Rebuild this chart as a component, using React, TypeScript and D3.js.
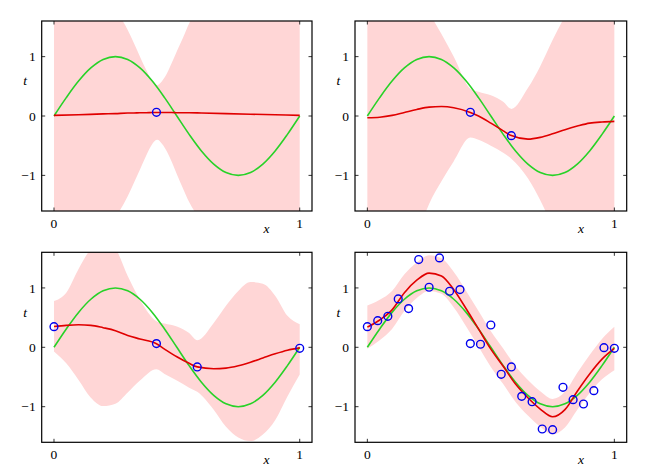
import React, { useEffect, useRef } from 'react';
import * as d3 from 'd3';

// sample positions along x
const gridX = [0, 0.05, 0.1, 0.15, 0.2, 0.25, 0.3, 0.35, 0.4, 0.45, 0.5, 0.55, 0.6, 0.65, 0.7, 0.75, 0.8, 0.85, 0.9, 0.95, 1];
// same grid but sampled at the data points 0.417 and 0.583 (panels 2 and 3)
const gridX2 = [0, 0.05, 0.1, 0.15, 0.2, 0.25, 0.3, 0.35, 0.417, 0.45, 0.5, 0.55, 0.583, 0.65, 0.7, 0.75, 0.8, 0.85, 0.9, 0.95, 1];

// green: true underlying curve
const trueT = [0, 0.309, 0.588, 0.809, 0.951, 1, 0.951, 0.809, 0.588, 0.309, 0, -0.309, -0.588, -0.809, -0.951, -1, -0.951, -0.809, -0.588, -0.309, 0];

// observations (all 25 points, the first panels use a subset)
const obsX = [0, 0.042, 0.083, 0.125, 0.167, 0.208, 0.25, 0.292, 0.333, 0.375, 0.417, 0.458, 0.5, 0.542, 0.583, 0.625, 0.667, 0.708, 0.75, 0.792, 0.833, 0.875, 0.917, 0.958, 1];
const obsT = [0.348, 0.449, 0.522, 0.815, 0.652, 1.478, 1.011, 1.506, 0.944, 0.972, 0.062, 0.051, 0.376, -0.455, -0.331, -0.826, -0.916, -1.376, -1.388, -0.674, -0.882, -0.955, -0.73, -0.006, -0.017];

// panel 1 (one point) - finer sampling round the pinch
const p1X = [0, 0.1, 0.2, 0.25, 0.3, 0.325, 0.35, 0.375, 0.4, 0.42, 0.44, 0.46, 0.48, 0.5, 0.525, 0.55, 0.6, 0.7, 0.8, 0.9, 1];
const p1Mean = [0.01, 0.02, 0.035, 0.04, 0.05, 0.05, 0.055, 0.055, 0.06, 0.06, 0.06, 0.06, 0.06, 0.055, 0.055, 0.055, 0.05, 0.04, 0.03, 0.02, 0.01];
const p1Upper = [2.01, 2.02, 2.04, 1.79, 1.45, 1.23, 1.0, 0.78, 0.59, 0.52, 0.59, 0.72, 0.9, 1.09, 1.32, 1.56, 1.85, 2.04, 2.03, 2.02, 2.01];
const p1Lower = [-1.99, -1.98, -1.97, -1.71, -1.35, -1.13, -0.9, -0.67, -0.47, -0.4, -0.47, -0.6, -0.78, -0.98, -1.22, -1.45, -1.75, -1.96, -1.97, -1.98, -1.99];
const p1Obs = [10];

// panel 2 (two points), on gridX2
const p2Mean = [-0.03, -0.02, 0.01, 0.06, 0.11, 0.15, 0.16, 0.14, 0.06, 0.0, -0.12, -0.25, -0.33, -0.39, -0.36, -0.3, -0.23, -0.17, -0.12, -0.1, -0.09];
const p2Upper = [2.2, 2.2, 2.2, 2.2, 2.1, 1.74, 1.38, 1.0, 0.46, 0.41, 0.35, 0.24, 0.12, 0.47, 0.84, 1.28, 1.68, 2.05, 2.2, 2.2, 2.2];
const p2Lower = [-2.2, -2.2, -2.2, -2.2, -2.0, -1.48, -1.1, -0.76, -0.36, -0.4, -0.5, -0.62, -0.72, -1.05, -1.42, -1.85, -2.2, -2.2, -2.2, -2.2, -2.2];
const p2Obs = [10, 14];

// panel 3 (four points), on gridX2
const p3Mean = [0.35, 0.37, 0.38, 0.37, 0.33, 0.28, 0.2, 0.14, 0.06, -0.03, -0.16, -0.27, -0.33, -0.36, -0.35, -0.31, -0.25, -0.18, -0.11, -0.05, -0.01];
const p3Upper = [0.78, 0.92, 1.32, 1.65, 1.75, 1.65, 1.2, 0.8, 0.44, 0.4, 0.35, 0.24, 0.12, 0.41, 0.7, 0.95, 1.1, 1.07, 0.87, 0.53, 0.39];
const p3Lower = [-0.07, -0.27, -0.55, -0.85, -0.99, -0.95, -0.76, -0.56, -0.37, -0.45, -0.56, -0.68, -0.75, -1.05, -1.34, -1.52, -1.58, -1.47, -1.23, -0.83, -0.46];
const p3Obs = [0, 10, 14, 24];

// panel 4 (all points), on gridX
const p4Mean = [0.34, 0.46, 0.63, 0.92, 1.13, 1.25, 1.2, 0.97, 0.65, 0.31, -0.03, -0.32, -0.62, -0.85, -1.04, -1.17, -1.05, -0.74, -0.45, -0.2, -0.02];
const p4Upper = [0.705, 0.8, 0.95, 1.23, 1.43, 1.55, 1.5, 1.27, 0.95, 0.61, 0.27, -0.02, -0.32, -0.55, -0.74, -0.87, -0.75, -0.43, -0.13, 0.14, 0.345];
const p4Lower = [-0.025, 0.12, 0.31, 0.61, 0.83, 0.95, 0.9, 0.67, 0.35, 0.01, -0.33, -0.62, -0.92, -1.15, -1.34, -1.47, -1.35, -1.05, -0.77, -0.54, -0.385];
const p4Obs = d3.range(25);

const xTicks = [0, 1];
const yTicks = [-1, 0, 1];
const xTickLabels = ['0', '1'];
const yTickLabels = ['\u22121', '0', '1'];

const panels = [
  { xs: p1X, mean: p1Mean, upper: p1Upper, lower: p1Lower, obs: p1Obs, frame: { l: 41.7, t: 21, r: 312, b: 211 } },
  { xs: gridX2, mean: p2Mean, upper: p2Upper, lower: p2Lower, obs: p2Obs, frame: { l: 355, t: 21, r: 626.7, b: 211 } },
  { xs: gridX2, mean: p3Mean, upper: p3Upper, lower: p3Lower, obs: p3Obs, frame: { l: 41.7, t: 252.3, r: 312, b: 442.3 } },
  { xs: gridX, mean: p4Mean, upper: p4Upper, lower: p4Lower, obs: p4Obs, frame: { l: 355, t: 252.3, r: 626.7, b: 442.3 } },
];

const FONT = 'Liberation Serif, Times New Roman, DejaVu Serif, serif';

const App: React.FC = () => {
  const svgRef = useRef<SVGSVGElement>(null);

  useEffect(() => {
    if (!svgRef.current) return;
    const svg = d3.select(svgRef.current);
    svg.selectAll('*').remove();
    const defs = svg.append('defs');

    panels.forEach((p, i) => {
      const f = p.frame;
      const x = d3.scaleLinear().domain([-0.05, 1.05]).range([f.l, f.r]);
      const y = d3.scaleLinear().domain([-1.6, 1.6]).range([f.b, f.t]);

      defs.append('clipPath').attr('id', `clip${i}`)
        .append('rect').attr('x', f.l).attr('y', f.t).attr('width', f.r - f.l).attr('height', f.b - f.t);

      const g = svg.append('g');
      const plot = g.append('g').attr('clip-path', `url(#clip${i})`);

      const band = d3.area<number>()
        .x((_, k) => x(p.xs[k]))
        .y0((_, k) => y(p.lower[k]))
        .y1((_, k) => y(p.upper[k]))
        .curve(d3.curveMonotoneX);
      plot.append('path').attr('d', band(p.xs) as string).attr('fill', '#ffd6d6');

      const trueLine = d3.line<number>()
        .x((_, k) => x(gridX[k]))
        .y((d) => y(d))
        .curve(d3.curveCatmullRom.alpha(0.5));
      plot.append('path').attr('d', trueLine(trueT) as string)
        .attr('fill', 'none').attr('stroke', '#28d228').attr('stroke-width', 1.6);

      const meanLine = d3.line<number>()
        .x((_, k) => x(p.xs[k]))
        .y((d) => y(d))
        .curve(d3.curveMonotoneX);
      plot.append('path').attr('d', meanLine(p.mean) as string)
        .attr('fill', 'none').attr('stroke', '#e00000').attr('stroke-width', 1.6);

      g.selectAll('circle.obs').data(p.obs).enter().append('circle')
        .attr('cx', (k) => x(obsX[k]))
        .attr('cy', (k) => y(obsT[k]))
        .attr('r', 3.9)
        .attr('fill', 'none')
        .attr('stroke', '#0000ee')
        .attr('stroke-width', 1.4);

      // frame and inward ticks
      g.append('rect').attr('x', f.l).attr('y', f.t).attr('width', f.r - f.l).attr('height', f.b - f.t)
        .attr('fill', 'none').attr('stroke', '#000').attr('stroke-width', 1.2);
      const tl = 3.5;
      xTicks.forEach((v) => {
        g.append('line').attr('x1', x(v)).attr('x2', x(v)).attr('y1', f.b).attr('y2', f.b - tl).attr('stroke', '#000').attr('stroke-width', 0.8);
        g.append('line').attr('x1', x(v)).attr('x2', x(v)).attr('y1', f.t).attr('y2', f.t + tl).attr('stroke', '#000').attr('stroke-width', 0.8);
      });
      yTicks.forEach((v) => {
        g.append('line').attr('x1', f.l).attr('x2', f.l + tl).attr('y1', y(v)).attr('y2', y(v)).attr('stroke', '#000').attr('stroke-width', 0.8);
        g.append('line').attr('x1', f.r).attr('x2', f.r - tl).attr('y1', y(v)).attr('y2', y(v)).attr('stroke', '#000').attr('stroke-width', 0.8);
      });

      xTicks.forEach((v, k) => {
        g.append('text').attr('x', x(v)).attr('y', f.b + 16.5)
          .attr('text-anchor', 'middle').attr('font-family', FONT).attr('font-size', 13.5)
          .text(xTickLabels[k]);
      });
      yTicks.forEach((v, k) => {
        g.append('text').attr('x', f.l - 6).attr('y', y(v) + 4.6)
          .attr('text-anchor', 'end').attr('font-family', FONT).attr('font-size', 13.5)
          .text(yTickLabels[k]);
      });
      g.append('text').attr('x', x(0.865)).attr('y', f.b + 21.5)
        .attr('text-anchor', 'middle').attr('font-family', FONT).attr('font-style', 'italic').attr('font-size', 13.5)
        .text('x');
      g.append('text').attr('x', f.l - 16.5).attr('y', y(0.585) + 4)
        .attr('text-anchor', 'middle').attr('font-family', FONT).attr('font-style', 'italic').attr('font-size', 13.5)
        .text('t');
    });
  }, []);

  return (
    <svg ref={svgRef} width={650} height={467}
      style={{ position: 'absolute', left: 0, top: 0, background: '#fff' }} />
  );
};

export default App;
